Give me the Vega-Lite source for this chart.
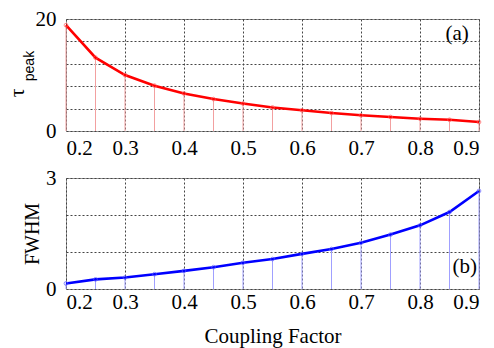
{
  "$schema": "https://vega.github.io/schema/vega-lite/v6.json",
  "autosize": {"type": "pad"},
  "padding": {"left": 5, "top": 7, "right": 5, "bottom": 5},
  "background": "white",
  "spacing": 47,
  "bounds": "flush",
  "config": {
    "view": {"stroke": "#999999", "strokeWidth": 1},
    "font": "Liberation Serif",
    "text": {"font": "Liberation Serif", "fontWeight": "normal"},
    "axis": {
      "labelFont": "Liberation Serif",
      "labelFontSize": 21,
      "labelFontWeight": "normal",
      "labelColor": "black",
      "labelOverlap": false,
      "labelBound": false,
      "titleFont": "Liberation Serif",
      "titleFontWeight": "normal",
      "titleColor": "black",
      "domain": false,
      "ticks": false,
      "grid": true,
      "gridColor": "#444444",
      "gridDash": [2, 2],
      "gridWidth": 1,
      "gridOpacity": 1
    }
  },
  "datasets": {
    "pts": [
      {"cf": 0.20, "tau": 18.9, "fwhm": 0.15},
      {"cf": 0.25, "tau": 13.1, "fwhm": 0.26},
      {"cf": 0.30, "tau": 10.0, "fwhm": 0.31},
      {"cf": 0.35, "tau": 8.1, "fwhm": 0.40},
      {"cf": 0.40, "tau": 6.7, "fwhm": 0.49},
      {"cf": 0.45, "tau": 5.7, "fwhm": 0.59},
      {"cf": 0.50, "tau": 4.9, "fwhm": 0.71},
      {"cf": 0.55, "tau": 4.2, "fwhm": 0.81},
      {"cf": 0.60, "tau": 3.7, "fwhm": 0.95},
      {"cf": 0.65, "tau": 3.2, "fwhm": 1.08},
      {"cf": 0.70, "tau": 2.8, "fwhm": 1.25},
      {"cf": 0.75, "tau": 2.5, "fwhm": 1.47},
      {"cf": 0.80, "tau": 2.2, "fwhm": 1.72},
      {"cf": 0.85, "tau": 2.0, "fwhm": 2.08},
      {"cf": 0.90, "tau": 1.6, "fwhm": 2.65}
    ],
    "one": [{"n": 1}]
  },
  "vconcat": [
    {
      "width": 413,
      "height": 112,
      "layer": [
        {
          "data": {"name": "pts"},
          "mark": {"type": "rule", "color": "#f2a0a0", "strokeWidth": 1},
          "encoding": {
            "x": {
              "field": "cf", "type": "quantitative",
              "scale": {"domain": [0.2, 0.9], "nice": false, "zero": false},
              "axis": {"values": [0.2, 0.3, 0.4, 0.5, 0.6, 0.7, 0.8, 0.9], "tickCount": 20, "format": ".1f", "title": null, "labelPadding": 6}
            },
            "y": {"field": "tau", "type": "quantitative",
              "scale": {"domain": [0, 20], "nice": false},
              "axis": {"values": [0, 4, 8, 12, 16, 20], "tickCount": 20, "format": "d", "labelExpr": "datum.value == 0 || datum.value == 20 ? datum.label : ''", "title": null, "labelPadding": 10}},
            "y2": {"datum": 0}
          }
        },
        {
          "data": {"name": "pts"},
          "mark": {"type": "line", "color": "#ff0000", "strokeWidth": 2.6},
          "encoding": {"x": {"field": "cf", "type": "quantitative"}, "y": {"field": "tau", "type": "quantitative"}}
        },
        {
          "data": {"name": "pts"},
          "mark": {"type": "point", "filled": false, "color": "#ff5a5a", "size": 14, "strokeWidth": 1},
          "encoding": {"x": {"field": "cf", "type": "quantitative"}, "y": {"field": "tau", "type": "quantitative"}}
        },
        {
          "data": {"name": "one"},
          "mark": {"type": "text", "text": "(a)", "font": "Liberation Serif", "fontWeight": "normal", "fontSize": 21, "align": "center", "baseline": "middle", "color": "black"},
          "encoding": {"x": {"datum": 0.863, "type": "quantitative"}, "y": {"datum": 17.3, "type": "quantitative"}}
        },
        {
          "data": {"name": "one"},
          "mark": {"type": "text", "text": "τ", "font": "Liberation Serif", "fontWeight": "normal", "fontSize": 22, "angle": 270, "align": "center", "baseline": "alphabetic", "dy": -42, "color": "black"},
          "encoding": {"x": {"datum": 0.2, "type": "quantitative"}, "y": {"datum": 6.8, "type": "quantitative"}}
        },
        {
          "data": {"name": "one"},
          "mark": {"type": "text", "text": "peak", "font": "Liberation Sans", "fontWeight": "normal", "fontSize": 14, "angle": 270, "align": "center", "baseline": "alphabetic", "dy": -32, "color": "black"},
          "encoding": {"x": {"datum": 0.2, "type": "quantitative"}, "y": {"datum": 11.6, "type": "quantitative"}}
        }
      ]
    },
    {
      "width": 413,
      "height": 111,
      "layer": [
        {
          "data": {"name": "pts"},
          "mark": {"type": "rule", "color": "#a0a0ff", "strokeWidth": 1},
          "encoding": {
            "x": {
              "field": "cf", "type": "quantitative",
              "scale": {"domain": [0.2, 0.9], "nice": false, "zero": false},
              "axis": {"values": [0.2, 0.3, 0.4, 0.5, 0.6, 0.7, 0.8, 0.9], "tickCount": 20, "format": ".1f", "title": "Coupling Factor", "titleFontSize": 21, "titlePadding": 13, "labelPadding": 2}
            },
            "y": {"field": "fwhm", "type": "quantitative",
              "scale": {"domain": [0, 3], "nice": false},
              "axis": {"values": [0, 1, 2, 3], "tickCount": 20, "format": "d", "labelExpr": "datum.value == 0 || datum.value == 3 ? datum.label : ''", "title": "FWHM", "titleFontSize": 20, "titlePadding": 3, "labelPadding": 10}},
            "y2": {"datum": 0}
          }
        },
        {
          "data": {"name": "pts"},
          "mark": {"type": "line", "color": "#0000ff", "strokeWidth": 2.6},
          "encoding": {"x": {"field": "cf", "type": "quantitative"}, "y": {"field": "fwhm", "type": "quantitative"}}
        },
        {
          "data": {"name": "pts"},
          "mark": {"type": "point", "filled": false, "color": "#5a5aff", "size": 14, "strokeWidth": 1},
          "encoding": {"x": {"field": "cf", "type": "quantitative"}, "y": {"field": "fwhm", "type": "quantitative"}}
        },
        {
          "data": {"name": "one"},
          "mark": {"type": "text", "text": "(b)", "font": "Liberation Serif", "fontWeight": "normal", "fontSize": 21, "align": "center", "baseline": "middle", "color": "black"},
          "encoding": {"x": {"datum": 0.876, "type": "quantitative"}, "y": {"datum": 0.59, "type": "quantitative"}}
        }
      ]
    }
  ]
}
